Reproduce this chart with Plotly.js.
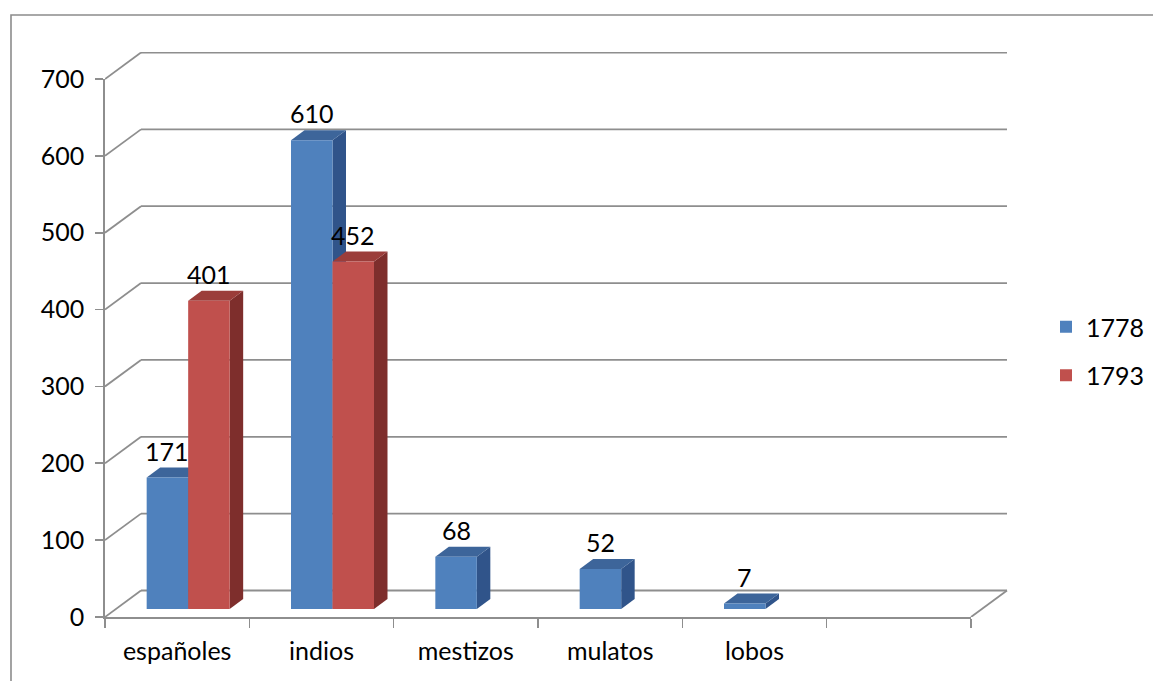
<!DOCTYPE html>
<html><head><meta charset="utf-8">
<script src="https://cdn.plot.ly/plotly-3.0.1.min.js"></script>
<style>html,body{margin:0;padding:0;background:#fff;} #chart{width:1153px;height:681px;}</style>
</head><body><div id="chart"></div>
<script>
// ---- data ----
const categories = ['españoles', 'indios', 'mestizos', 'mulatos', 'lobos', ' '];
const series1778 = [171, 610, 68, 52, 7];
const series1793 = [401, 452, null, null, null];
const seriesNames = ['1778', '1793'];
const yTicks = [0, 100, 200, 300, 400, 500, 600, 700];

// ---- geometry (pixels) ----
const G = {left:105, right:1008, top:52, bottom:617, frontRight:971, frontTop:79,
  wallDx:36, wallDy:26.5, barDx:11, barDy:8, faceDx:13.5, faceDy:10, barW:41.5};
const FIG_W = 1153, FIG_H = 681;
const W = G.right - G.left, H = G.bottom - G.top;
const nCat = categories.length;
const pxX = (G.frontRight - G.left) / nCat;
const yMax = yTicks[yTicks.length - 1];
const pxY = (G.bottom - G.frontTop) / yMax;
const ux = p => p / pxX, uy = p => p / pxY;
const xFull = [-0.5, -0.5 + ux(W)];
const yFull = [0, uy(H)];
const bw = ux(G.barW);
const gray = '#8e8e8e';
const FONT = 'Lato, "Open Sans", "Noto Sans", sans-serif';
const FS = 25;

const palette = {
  '1778': {front:'#4F81BD', top:'#3D659A', side:'#30548A'},
  '1793': {front:'#C0504D', top:'#9B3D3A', side:'#7E2E2C'}
};
const seriesVals = [series1778, series1793];

// ---- shapes: back wall ----
const shapes = [];
const wdx = ux(G.wallDx), wdy = uy(G.wallDy);
yTicks.forEach(v => {
  shapes.push({type:'line', layer:'below', xref:'x3', yref:'y3',
    x0:-0.5 + wdx, x1:nCat - 0.5 + wdx, y0:v + wdy, y1:v + wdy, line:{color:gray, width:1.8}});
  shapes.push({type:'line', layer:'below', xref:'x3', yref:'y3',
    x0:-0.5, x1:-0.5 + wdx, y0:v, y1:v + wdy, line:{color:gray, width:1.8}});
});
shapes.push({type:'line', layer:'below', xref:'x3', yref:'y3',
  x0:nCat - 0.5, x1:nCat - 0.5 + wdx, y0:0, y1:wdy, line:{color:gray, width:1.8}});

// ---- shapes: 3D faces of bars ----
const fdx = ux(G.faceDx), fdy = uy(G.faceDy);
seriesVals.forEach((vals, k) => {
  const c = palette[seriesNames[k]];
  vals.forEach((v, i) => {
    if (v === null) return;
    const xl = i + (k === 0 ? -bw : 0), xr = xl + bw;
    shapes.push({type:'path', layer:'below', xref:'x2', yref:'y2', line:{width:0}, fillcolor:c.side,
      path:`M${xr},0 L${xr+fdx},${fdy} L${xr+fdx},${v+fdy} L${xr},${v} Z`});
    shapes.push({type:'path', layer:'below', xref:'x2', yref:'y2', line:{width:0}, fillcolor:c.top,
      path:`M${xl},${v} L${xl+fdx},${v+fdy} L${xr+fdx},${v+fdy} L${xr},${v} Z`});
  });
});

// outer chart border
const px2paperX = p => (p - G.left) / W, px2paperY = p => (G.bottom - p) / H;
shapes.push({type:'rect', xref:'paper', yref:'paper', layer:'below',
  x0:px2paperX(11), x1:px2paperX(FIG_W + 40), y0:px2paperY(FIG_H + 40), y1:px2paperY(15),
  line:{color:'#8c8c8c', width:1.6}, fillcolor:'rgba(0,0,0,0)'});

// ---- annotations: data labels ----
const annotations = [];
seriesVals.forEach((vals, k) => {
  vals.forEach((v, i) => {
    if (v === null) return;
    const xc = i + (k === 0 ? -bw/2 : bw/2);
    annotations.push({xref:'x2', yref:'y2', x:xc, y:v, text:String(v), showarrow:false,
      yanchor:'middle', xanchor:'center', yshift:27, font:{family:FONT, size:FS, color:'#000'}});
  });
});

// ---- traces ----
const idx = categories.map((c, i) => i);
const traces = [
  {type:'scatter', x:categories, y:categories.map(() => null), xaxis:'x', yaxis:'y',
    showlegend:false, hoverinfo:'skip', mode:'markers'},
  {type:'scatter', x:[], y:[], xaxis:'x3', yaxis:'y3', showlegend:false, hoverinfo:'skip', mode:'markers'}
];
seriesVals.forEach((vals, k) => {
  traces.push({type:'bar', name:seriesNames[k], legendgroup:seriesNames[k],
    x:idx.slice(0, vals.length), y:vals, xaxis:'x2', yaxis:'y2',
    marker:{color:palette[seriesNames[k]].front, line:{width:0}}, hoverinfo:'skip'});
});

const layout = {
  width:FIG_W, height:FIG_H,
  margin:{l:G.left, r:FIG_W - G.right, t:G.top, b:FIG_H - G.bottom, pad:0, autoexpand:false},
  paper_bgcolor:'#ffffff', plot_bgcolor:'rgba(0,0,0,0)',
  font:{family:FONT, size:FS, color:'#000'},
  barmode:'group', bargap:1 - 2*bw, bargroupgap:0,
  hovermode:false,
  showlegend:true,
  legend:{x:px2paperX(1046), y:px2paperY(304), xanchor:'left', yanchor:'top',
    font:{family:FONT, size:FS, color:'#000'}, tracegroupgap:13, bgcolor:'rgba(0,0,0,0)', borderwidth:0},
  xaxis:{domain:[0, (G.frontRight - G.left)/W], anchor:'y', type:'category',
    categoryorder:'array', categoryarray:categories, range:[-0.5, nCat - 0.5],
    tickson:'boundaries', ticks:'outside', ticklen:9, tickwidth:1.6, tickcolor:gray,
    showline:true, linecolor:gray, linewidth:1.8, showgrid:false, zeroline:false,
    tickfont:{family:FONT, size:FS, color:'#000'}, ticklabelstandoff:11, fixedrange:true},
  yaxis:{domain:[0, (G.bottom - G.frontTop)/H], anchor:'x', range:[0, yMax],
    tickmode:'array', tickvals:yTicks, ticktext:yTicks.map(String),
    ticks:'outside', ticklen:8, tickwidth:1.6, tickcolor:gray,
    showline:true, linecolor:gray, linewidth:1.8, showgrid:false, zeroline:false,
    tickfont:{family:FONT, size:FS, color:'#000'}, ticklabelstandoff:6, fixedrange:true},
  xaxis3:{domain:[0,1], anchor:'y3', range:xFull, visible:false, fixedrange:true},
  yaxis3:{domain:[0,1], anchor:'x3', range:yFull, visible:false, fixedrange:true},
  xaxis2:{overlaying:'x3', anchor:'y2', range:[xFull[0] - ux(G.barDx), xFull[1] - ux(G.barDx)], visible:false, fixedrange:true},
  yaxis2:{overlaying:'y3', anchor:'x2', range:[yFull[0] - uy(G.barDy), yFull[1] - uy(G.barDy)], visible:false, fixedrange:true},
  shapes:shapes,
  annotations:annotations
};

Plotly.newPlot('chart', traces, layout, {staticPlot:true, displayModeBar:false});
</script>
</body></html>
